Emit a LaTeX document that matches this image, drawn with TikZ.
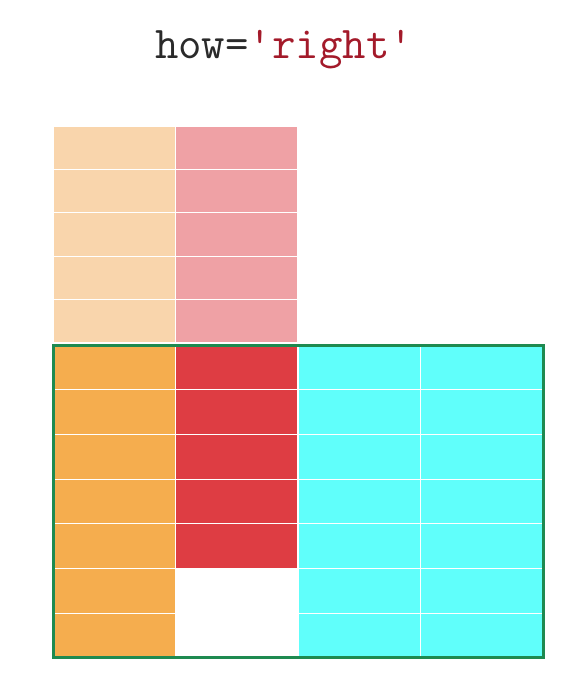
\documentclass[tikz,border=0pt]{standalone}
\usepackage{fontspec}
\usetikzlibrary{positioning}

\definecolor{paleorange}{HTML}{F9D5AC}
\definecolor{palered}{HTML}{EFA1A5}
\definecolor{leftorange}{HTML}{F5AD4E}
\definecolor{rightred}{HTML}{DE3D43}
\definecolor{joincyan}{HTML}{60FFFB}
\definecolor{framegreen}{HTML}{1E8A50}
\definecolor{strred}{HTML}{A31A2A}
\definecolor{codegray}{HTML}{2A2A2A}

\begin{document}
\begin{tikzpicture}[
    x=1pt, y=-1pt,
    node distance = 0pt,
    cell/.style={draw=white, line width=1.2pt, minimum width=122.5pt, minimum height=44.7pt, inner sep=0pt, outer sep=0pt},
    topcell/.style={cell, minimum height=43.4pt},
    lorange/.style={topcell, fill=paleorange},
    lred/.style={topcell, fill=palered},
    orange/.style={cell, fill=leftorange},
    red/.style={cell, fill=rightred},
    empty/.style={cell, fill=white},
    cyan/.style={cell, fill=joincyan},
    result/.style={draw=framegreen, line width=3pt},
]
\useasboundingbox (0,0) rectangle (577,683);

\node[text=codegray, font=\ttfamily\fontsize{45.5}{47}\selectfont] (title) at (284,50) {how=\textcolor{strred}{'right'}};

% left frame (top)
\node[lorange, anchor=north west] (ta1) at (53,126) {};
\node[lred, right=of ta1] (tb1) {};
\foreach \i in {2,...,5} {
    \pgfmathtruncatemacro{\prev}{\i-1}
    \node[lorange, below=of ta\prev] (ta\i) {};
    \node[lred, below=of tb\prev] (tb\i) {};
}

% merged frame (bottom)
\node[orange, anchor=north west] (ba1) at (53,345) {};
\node[red, right=of ba1] (bb1) {};
\node[cyan, right=of bb1] (bc1) {};
\node[cyan, right=of bc1] (bd1) {};
\foreach \i in {2,...,7} {
    \pgfmathtruncatemacro{\prev}{\i-1}
    \ifnum\i<6 \def\mid{red}\else\def\mid{empty}\fi
    \node[orange, below=of ba\prev] (ba\i) {};
    \node[\mid, below=of bb\prev] (bb\i) {};
    \node[cyan, below=of bc\prev] (bc\i) {};
    \node[cyan, below=of bd\prev] (bd\i) {};
}

\draw[result] (ba1.north west) rectangle (bd7.south east);

\end{tikzpicture}
\end{document}
